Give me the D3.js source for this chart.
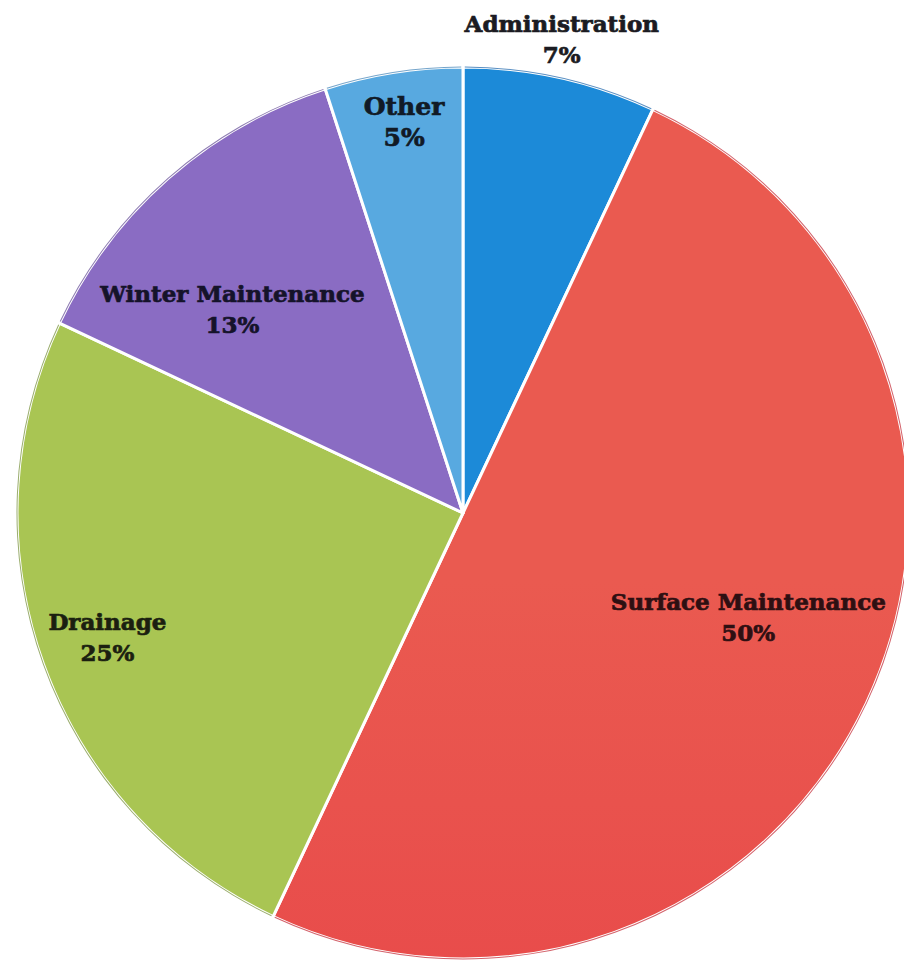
<!DOCTYPE html>
<html>
<head>
<meta charset="utf-8">
<script src="https://cdn.jsdelivr.net/npm/d3@7/dist/d3.min.js"></script>
<style>
  html, body { margin: 0; padding: 0; background: #ffffff; }
  svg { display: block; }
  .lbl { font-family: "DejaVu Serif", serif; font-weight: bold; stroke-width: 0.7px; paint-order: stroke; }
</style>
</head>
<body>
<svg id="chart" width="904" height="965"></svg>
<script>
// Road maintenance budget split (percent)
const categories = ["Administration", "Surface Maintenance", "Drainage", "Winter Maintenance", "Other"];
const shares = [7, 50, 25, 13, 5];
const percentLabels = ["7%", "50%", "25%", "13%", "5%"];

// Slice fills
const fills = ["#1c8ad8", "url(#surfaceFill)", "#a9c553", "#8a6cc3", "#58a9e0"];
const rimColors = ["#1460a8", "#c0202c", "#6f8a30", "#5e4592", "#3b7fb5"];
const textColors = ["#1b1b22", "#2e0f12", "#1b1f10", "#15132a", "#111a26"];

// Label placement: angle (degrees clockwise from 12 o'clock), distance from centre, font size
const labelAngles = [11.8, 110.2, 250.6, 311.3, 351.4];
const labelRadii = [483, 304, 377, 307, 394];
const labelSizes = [23, 23, 23, 23, 25];

const width = 904, height = 965;
const cx = 463, cy = 513, radius = 446;

const svg = d3.select("#chart");

const defs = svg.append("defs");
const grad = defs.append("linearGradient")
  .attr("id", "surfaceFill")
  .attr("gradientUnits", "userSpaceOnUse")
  .attr("x1", 0).attr("y1", cy - radius)
  .attr("x2", 0).attr("y2", cy + radius);
grad.append("stop").attr("offset", "0%").attr("stop-color", "#ea5a50");
grad.append("stop").attr("offset", "50%").attr("stop-color", "#e84a4a");
grad.append("stop").attr("offset", "100%").attr("stop-color", "#e3343f");

const data = categories.map((c, i) => ({ name: c, value: shares[i], pct: percentLabels[i], i }));

const pie = d3.pie().value(d => d.value).sort(null);
const arc = d3.arc().innerRadius(0).outerRadius(radius);

const g = svg.append("g").attr("transform", `translate(${cx},${cy})`);

g.selectAll("path.slice")
  .data(pie(data))
  .join("path")
  .attr("class", "slice")
  .attr("d", arc)
  .attr("fill", d => fills[d.data.i])
  .attr("stroke", "#ffffff")
  .attr("stroke-width", 3)
  .attr("stroke-linejoin", "round");

// thin darker rim along the outer edge
const rim = d3.arc().innerRadius(radius - 0.5).outerRadius(radius + 0.5);
g.selectAll("path.rim")
  .data(pie(data))
  .join("path")
  .attr("class", "rim")
  .attr("d", d => rim({ startAngle: d.startAngle + 0.004, endAngle: d.endAngle - 0.004 }))
  .attr("fill", d => rimColors[d.data.i])
  .attr("opacity", 0.7);

const labels = g.selectAll("text.lbl")
  .data(data)
  .join("text")
  .attr("class", "lbl")
  .attr("text-anchor", "middle")
  .attr("font-size", d => labelSizes[d.i])
  .attr("fill", d => textColors[d.i])
  .attr("stroke", d => textColors[d.i])
  .attr("transform", d => {
    const a = labelAngles[d.i] * Math.PI / 180;
    const r = labelRadii[d.i];
    return `translate(${r * Math.sin(a)},${-r * Math.cos(a)})`;
  });

labels.append("tspan").attr("x", 0).attr("y", -8).text(d => d.name);
labels.append("tspan").attr("x", 0).attr("y", 23).text(d => d.pct);
</script>
</body>
</html>
